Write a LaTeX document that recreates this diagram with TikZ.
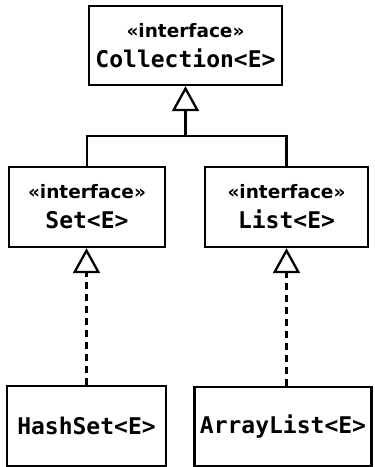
\documentclass[tikz,border=0pt]{standalone}
\usepackage{fontspec}
\setsansfont{DejaVu Sans}
\setmonofont{DejaVu Sans Mono}
\usetikzlibrary{arrows.meta}

\newcommand{\stereo}{{\sffamily\bfseries\fontsize{18.5}{30}\selectfont «interface»}}
\newcommand{\cname}[1]{{\ttfamily\bfseries\fontsize{23}{30}\selectfont #1}}

\begin{document}
\begin{tikzpicture}[x=1pt, y=-1pt,
    classbox/.style={draw, line width=2.3pt, align=center, inner sep=0pt, font=\fontsize{20}{30}\selectfont},
    inherit/.style={line width=2.3pt, -{Triangle[open, width=27pt, length=25pt, line width=2.3pt]}},
    realize/.style={inherit, dash pattern=on 7pt off 5pt}]
    \useasboundingbox (0,0) rectangle (375,467);

    \node[classbox, minimum width=193pt, minimum height=79pt] (coll) at (185.5,45.5) {\stereo\\\cname{Collection<E>}};
    \node[classbox, minimum width=156pt, minimum height=80pt] (set) at (87,207) {\stereo\\\cname{Set<E>}};
    \node[classbox, minimum width=163pt, minimum height=80pt] (list) at (286.5,207) {\stereo\\\cname{List<E>}};
    \node[classbox, minimum width=159pt, minimum height=80pt] (hash) at (86.5,426) {\cname{HashSet<E>}};
    \node[classbox, minimum width=177pt, minimum height=79pt] (array) at (283,426.5) {\cname{ArrayList<E>}};

    \coordinate (jn) at (185.5,136);
    \draw[line width=2.3pt] (set.north) |- (jn) -| (list.north);
    \draw[inherit] (jn) -- (coll.south);

    \draw[realize] (hash.north) -- (hash.north |- set.south);
    \draw[realize] (list.south |- array.north) -- (list.south);
  \end{tikzpicture}
\end{document}
